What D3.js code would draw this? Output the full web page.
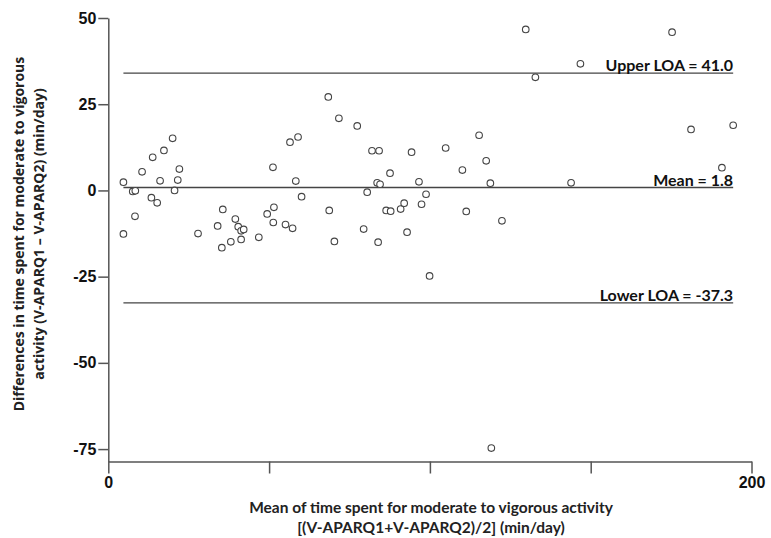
<!DOCTYPE html>
<html>
<head>
<meta charset="utf-8">
<script src="https://cdn.jsdelivr.net/npm/d3@7"></script>
<style>
  body { margin: 0; background: #fff; }
  svg { display: block; }
  .tick text { font-family: "Liberation Sans", Arial, sans-serif; font-weight: bold; font-size: 16px; fill: #111; }
  .domain, .tick line { stroke: #555; stroke-width: 1.5; }
  .loa { stroke: #444; stroke-width: 1.3; }
  .loa-label { font-family: Lato, sans-serif; font-weight: bold; font-size: 16px; fill: #111; }
  .dot { fill: #fff; stroke: #444; stroke-width: 1.1; }
  .title-x { font-family: Lato, sans-serif; font-weight: bold; font-size: 15.5px; fill: #222; }
  .title-y { font-family: "Open Sans", sans-serif; font-weight: bold; font-size: 14px; fill: #222; }
</style>
</head>
<body>
<svg id="chart"></svg>
<script>
// mean of the two questionnaires (x) and their difference (y)
var meanVals = [4.7, 4.7, 7.6, 8.4, 8.3, 10.5, 13.4, 15.2, 13.8, 16.1,
  17.3, 20.0, 20.6, 21.6, 22.1, 27.9, 34.0, 35.6, 35.3, 38.1,
  39.5, 40.4, 41.3, 42.1, 41.3, 46.8, 49.4, 51.3, 51.5, 51.2,
  55.1, 57.3, 56.5, 59.0, 58.3, 60.1, 68.4, 68.7, 70.3, 71.7,
  77.4, 79.4, 80.5, 82.0, 84.2, 83.6, 84.5, 83.9, 86.4, 87.8,
  87.6, 90.9, 92.0, 92.9, 94.3, 96.6, 97.4, 98.8, 99.9, 104.9,
  110.1, 111.3, 115.3, 117.5, 118.8, 122.4, 119.1, 129.8, 132.8, 143.9,
  146.8, 175.3, 181.2, 190.8, 194.3];
var diffVals = [2.4, -12.6, -0.3, -0.1, -7.5, 5.4, -2.1, -3.6, 9.6, 2.8,
  11.6, 15.1, 0.0, 3.0, 6.2, -12.5, -10.3, -5.5, -16.6, -14.9,
  -8.3, -10.5, -11.7, -11.3, -14.2, -13.6, -6.8, -9.3, -4.9, 6.7,
  -9.9, -11.0, 14.0, 15.5, 2.7, -1.8, 27.1, -5.8, -14.8, 20.9,
  18.7, -11.2, -0.5, 11.5, 11.5, 2.2, 1.8, -15.0, -5.8, -6.0,
  5.0, -5.4, -3.7, -12.1, 11.1, 2.5, -4.0, -1.1, -24.8, 12.3,
  5.9, -6.1, 16.0, 8.6, 2.1, -8.8, -74.7, 46.7, 32.8, 2.2,
  36.7, 45.9, 17.7, 6.6, 18.9];

// horizontal reference lines as drawn, with their printed labels
var loaLevels = [34.0, 0.85, -32.6];
var loaLabels = ["Upper LOA = 41.0", "Mean = 1.8", "Lower LOA = -37.3"];

var xTicks = [0, 50, 100, 150, 200];
var xTickLabels = ["0", "", "", "", "200"];
var yTicks = [50, 25, 0, -25, -50, -75];
var yTickLabels = ["50", "25", "0", "-25", "-50", "-75"];

var width = 771, height = 538;
var svg = d3.select("#chart").attr("width", width).attr("height", height);

var x = d3.scaleLinear().domain([0, 200]).range([108.3, 751.5]);
var y = d3.scaleLinear().domain([-78.6, 50]).range([461.5, 18]);

svg.append("g")
  .attr("transform", "translate(0," + y(-78.6) + ")")
  .call(d3.axisBottom(x).tickValues(xTicks).tickSize(12).tickSizeOuter(0).tickPadding(3)
    .tickFormat(function(d, i) { return xTickLabels[i]; }));

svg.append("g")
  .attr("transform", "translate(" + x(0) + ",0)")
  .call(d3.axisLeft(y).tickValues(yTicks).tickSize(10).tickSizeOuter(0).tickPadding(2)
    .tickFormat(function(d, i) { return yTickLabels[i]; }));

var xr = d3.extent(meanVals);

svg.selectAll(".loa")
  .data(loaLevels)
  .join("line")
  .attr("class", "loa")
  .attr("x1", x(xr[0]))
  .attr("x2", x(xr[1]))
  .attr("y1", function(d) { return y(d); })
  .attr("y2", function(d) { return y(d); });

svg.selectAll(".loa-label")
  .data(loaLevels)
  .join("text")
  .attr("class", "loa-label")
  .attr("text-anchor", "end")
  .attr("x", x(xr[1]))
  .attr("y", function(d) { return y(d) - 2; })
  .text(function(d, i) { return loaLabels[i]; });

svg.selectAll(".dot")
  .data(meanVals)
  .join("circle")
  .attr("class", "dot")
  .attr("cx", function(d) { return x(d); })
  .attr("cy", function(d, i) { return y(diffVals[i]); })
  .attr("r", 3.3);

// axis titles
svg.append("text").attr("class", "title-x").attr("text-anchor", "middle")
  .attr("x", 431).attr("y", 513)
  .text("Mean of time spent for moderate to vigorous activity");
svg.append("text").attr("class", "title-x").attr("text-anchor", "middle")
  .attr("x", 431).attr("y", 533)
  .text("[(V-APARQ1+V-APARQ2)/2] (min/day)");

var yt = svg.append("g").attr("transform", "translate(0,234) rotate(-90)");
yt.append("text").attr("class", "title-y").attr("text-anchor", "middle")
  .attr("x", 0).attr("y", 24)
  .text("Differences in time spent for moderate to vigorous");
yt.append("text").attr("class", "title-y").attr("text-anchor", "middle")
  .attr("x", 0).attr("y", 44)
  .text("activity (V-APARQ1 \u2013 V-APARQ2) (min/day)");
</script>
</body>
</html>
